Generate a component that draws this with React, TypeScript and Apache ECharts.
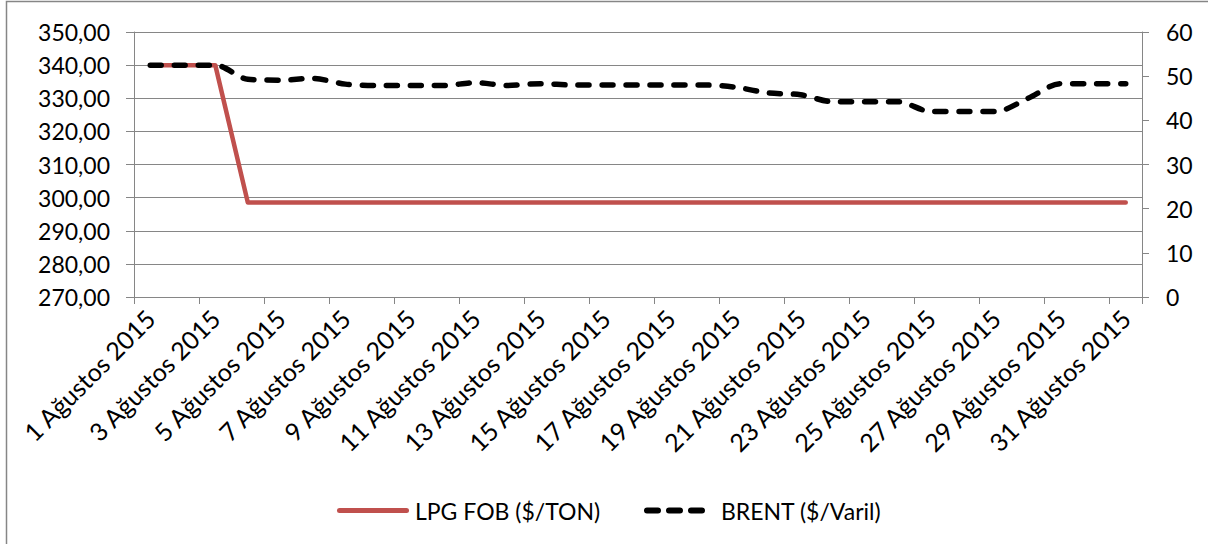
import React, { useEffect, useRef } from "react";
import * as echarts from "echarts";

const dayNumbers = [1, 2, 3, 4, 5, 6, 7, 8, 9, 10, 11, 12, 13, 14, 15, 16, 17, 18, 19, 20, 21, 22, 23, 24, 25, 26, 27, 28, 29, 30, 31];
const categories = dayNumbers.map((d) => `${d} Ağustos 2015`);

const lpgSeriesName = "LPG FOB ($/TON)";
const brentSeriesName = "BRENT ($/Varil)";

const lpgValues = [
  340, 340, 340, 298.5, 298.5, 298.5, 298.5, 298.5, 298.5, 298.5, 298.5, 298.5, 298.5, 298.5, 298.5, 298.5,
  298.5, 298.5, 298.5, 298.5, 298.5, 298.5, 298.5, 298.5, 298.5, 298.5, 298.5, 298.5, 298.5, 298.5, 298.5,
];

const brentValues = [
  52.5, 52.5, 52.5, 49.3, 49.1, 49.5, 48.2, 47.9, 47.9, 47.9, 48.5, 47.9, 48.3, 48.0, 48.0, 48.0,
  48.0, 48.0, 47.5, 46.2, 45.8, 44.2, 44.2, 44.2, 42.0, 42.0, 42.0, 45.0, 48.3, 48.3, 48.3,
];

const leftAxis = { min: 270, max: 350, interval: 10 };
const rightAxis = { min: 0, max: 60, interval: 10 };

const FONT = "Lato";
const FS = 23;
const XFS = 25;
const GRAY = "#868686";
const RED = "#C0504D";

const solidIcon = "path://M2.5,0 h67 a2.5,2.5 0 0 1 0,5 h-67 a2.5,2.5 0 0 1 0,-5 z";
const dashIcon =
  "path://M3,0 h11 a3,3 0 0 1 0,6 h-11 a3,3 0 0 1 0,-6 z M25,0 h11 a3,3 0 0 1 0,6 h-11 a3,3 0 0 1 0,-6 z M47,0 h11 a3,3 0 0 1 0,6 h-11 a3,3 0 0 1 0,-6 z";

export default function App() {
  const ref = useRef<HTMLDivElement>(null);
  useEffect(() => {
    if (!ref.current) return;
    const chart = echarts.init(ref.current, undefined, { renderer: "svg" });
    chart.setOption({
      animation: false,
      backgroundColor: "#ffffff",
      textStyle: { fontFamily: FONT },
      grid: { left: 134, right: 66, top: 32, bottom: 247, containLabel: false },
      graphic: [
        {
          type: "rect",
          shape: { x: 6.5, y: 1.5, width: 1400, height: 700 },
          style: { fill: "none", stroke: GRAY, lineWidth: 1.5 },
          silent: true,
          z: -1,
        },
      ],
      legend: [
        {
          data: [{ name: lpgSeriesName, icon: solidIcon }],
          left: 337,
          top: 499,
          padding: 0,
          itemWidth: 72,
          itemHeight: 5,
          textStyle: { fontSize: FS, color: "#000", fontFamily: FONT, padding: [0, 0, 0, 1] },
        },
        {
          data: [{ name: brentSeriesName, icon: dashIcon }],
          left: 644,
          top: 499,
          padding: 0,
          itemWidth: 61,
          itemHeight: 6,
          textStyle: { fontSize: FS, color: "#000", fontFamily: FONT, padding: [0, 0, 0, 11] },
        },
      ],
      xAxis: {
        type: "category",
        data: categories,
        boundaryGap: true,
        axisLine: { show: true, lineStyle: { color: GRAY, width: 1 } },
        axisTick: { show: true, interval: 1, length: 7, lineStyle: { color: GRAY } },
        axisLabel: {
          interval: 1,
          rotate: 45,
          margin: 17,
          fontSize: XFS,
          color: "#000",
          fontFamily: FONT,
        },
        splitLine: { show: false },
      },
      yAxis: [
        {
          type: "value",
          position: "left",
          min: leftAxis.min,
          max: leftAxis.max,
          interval: leftAxis.interval,
          axisLine: { show: true, lineStyle: { color: GRAY, width: 1 } },
          axisTick: { show: true, length: 8, lineStyle: { color: GRAY } },
          axisLabel: {
            margin: 24,
            fontSize: FS,
            color: "#000",
            fontFamily: FONT,
            formatter: (v: number) => v.toFixed(2).replace(".", ","),
          },
          splitLine: { show: true, lineStyle: { color: GRAY, width: 1 } },
        },
        {
          type: "value",
          position: "right",
          min: rightAxis.min,
          max: rightAxis.max,
          interval: rightAxis.interval,
          axisLine: { show: true, lineStyle: { color: GRAY, width: 1 } },
          axisTick: { show: true, length: 7, lineStyle: { color: GRAY } },
          axisLabel: { margin: 24, fontSize: FS, color: "#000", fontFamily: FONT },
          splitLine: { show: false },
        },
      ],
      series: [
        {
          name: lpgSeriesName,
          type: "line",
          yAxisIndex: 0,
          data: lpgValues,
          symbol: "none",
          color: RED,
          lineStyle: { color: RED, width: 4.5, cap: "round", join: "round" },
        },
        {
          name: brentSeriesName,
          type: "line",
          yAxisIndex: 1,
          data: brentValues,
          symbol: "none",
          smooth: 0.3,
          color: "#000000",
          lineStyle: { color: "#000000", width: 5.5, type: [11, 13], cap: "round", join: "round" },
        },
      ],
    });
    return () => chart.dispose();
  }, []);
  return (
    <div
      ref={ref}
      style={{ position: "absolute", left: 0, top: 0, width: 1208, height: 544, background: "#fff" }}
    />
  );
}
